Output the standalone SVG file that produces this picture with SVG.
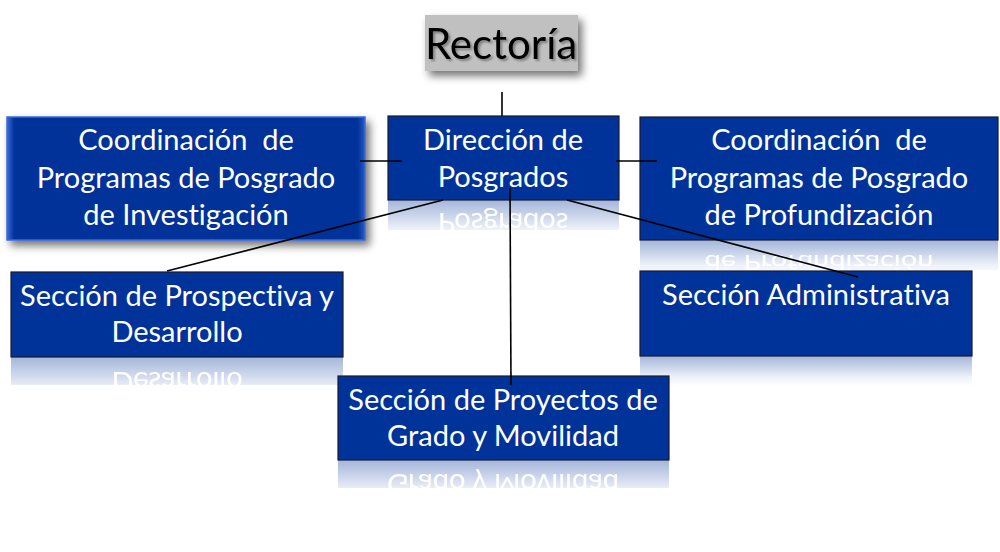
<svg xmlns="http://www.w3.org/2000/svg" width="1000" height="552" viewBox="0 0 1000 552">
<style>
.box{fill:#003399;stroke:#1a1a2e;stroke-width:1.2}
.t{font-family:Lato,"Open Sans","Liberation Sans",sans-serif;font-size:29px;fill:#ffffff;text-anchor:middle;white-space:pre;font-variant-ligatures:none}
.rt{font-family:Lato,"Open Sans","Liberation Sans",sans-serif;font-size:29px;fill:#ffffff;text-anchor:middle;white-space:pre;font-variant-ligatures:none}
.conn{stroke:#000000;stroke-width:1.6;fill:none}
.refl{fill:#003399;opacity:0.45}
</style>
<defs>
<linearGradient id="fade" x1="0" y1="0" x2="0" y2="1">
<stop offset="0" stop-color="#ffffff" stop-opacity="0.8"/>
<stop offset="0.7" stop-color="#ffffff" stop-opacity="0.15"/>
<stop offset="1" stop-color="#ffffff" stop-opacity="0"/>
</linearGradient>
<mask id="rmask" maskContentUnits="objectBoundingBox">
<rect x="0" y="0" width="1" height="1" fill="url(#fade)"/>
</mask>
<clipPath id="c-dir"><rect x="388" y="200" width="231" height="30"/></clipPath>
<clipPath id="c-prof"><rect x="640" y="240" width="358" height="30"/></clipPath>
<clipPath id="c-pros"><rect x="11" y="357" width="332" height="28"/></clipPath>
<clipPath id="c-adm"><rect x="640" y="356" width="332" height="30"/></clipPath>
<clipPath id="c-proy"><rect x="338" y="460" width="331" height="28"/></clipPath>
<filter id="shadow" x="-10%" y="-20%" width="130%" height="150%">
<feGaussianBlur in="SourceAlpha" stdDeviation="4"/>
<feOffset dx="4" dy="5" result="b"/>
<feComponentTransfer><feFuncA type="linear" slope="0.55"/></feComponentTransfer>
<feMerge><feMergeNode/><feMergeNode in="SourceGraphic"/></feMerge>
</filter>
<filter id="tshadow" x="-5%" y="-10%" width="115%" height="130%">
<feGaussianBlur in="SourceAlpha" stdDeviation="1"/>
<feOffset dx="1.5" dy="1.5"/>
<feComponentTransfer><feFuncA type="linear" slope="0.35"/></feComponentTransfer>
<feMerge><feMergeNode/><feMergeNode in="SourceGraphic"/></feMerge>
</filter>
<linearGradient id="bevelL" x1="0" y1="0" x2="1" y2="0">
<stop offset="0" stop-color="#3a6ad8"/>
<stop offset="0.02" stop-color="#003399"/>
<stop offset="0.98" stop-color="#003399"/>
<stop offset="1" stop-color="#2a5ac8"/>
</linearGradient>
</defs>

<g id="rectoria">
<rect x="425" y="15" width="153" height="56" fill="#c0c0c0" filter="url(#shadow)"/>
<text x="501" y="59" filter="url(#tshadow)" style="font-family:Lato,'Open Sans','Liberation Sans',sans-serif;font-size:42px;fill:#000000;text-anchor:middle">Rectoría</text>
</g>

<g id="coord-investigacion">
<rect x="7" y="117" width="358" height="123" fill="url(#bevelL)" stroke="#3a6ad8" stroke-width="1.5" filter="url(#shadow)"/>
<text class="t" x="186" y="150">Coordinación  de</text>
<text class="t" x="186" y="188">Programas de Posgrado</text>
<text class="t" x="186" y="225">de Investigación</text>
</g>

<g id="direccion">
<g clip-path="url(#c-dir)"><g mask="url(#rmask)">
<rect class="refl" x="388" y="200" width="231" height="30"/>
<text class="rt" transform="translate(0,400) scale(1,-1)" x="503" y="187">Posgrados</text>
</g></g>
<rect class="box" x="388" y="116" width="231" height="84"/>
<text class="t" x="503" y="150">Dirección de</text>
<text class="t" x="503" y="187">Posgrados</text>
</g>

<g id="coord-profundizacion">
<g clip-path="url(#c-prof)"><g mask="url(#rmask)">
<rect class="refl" x="640" y="240" width="358" height="30"/>
<text class="rt" transform="translate(0,255) scale(1,-0.75)" x="819" y="0">de Profundización</text>
</g></g>
<rect class="box" x="640" y="117" width="358" height="123"/>
<text class="t" x="819" y="150">Coordinación  de</text>
<text class="t" x="819" y="188">Programas de Posgrado</text>
<text class="t" x="819" y="225">de Profundización</text>
</g>

<g id="prospectiva">
<g clip-path="url(#c-pros)"><g mask="url(#rmask)">
<rect class="refl" x="11" y="357" width="332" height="28"/>
<text class="rt" transform="translate(0,714) scale(1,-1)" x="177" y="342">Desarrollo</text>
</g></g>
<rect class="box" x="11" y="272" width="332" height="85"/>
<text class="t" x="177" y="306">Sección de Prospectiva y</text>
<text class="t" x="177" y="342">Desarrollo</text>
</g>

<g id="administrativa">
<g clip-path="url(#c-adm)"><g mask="url(#rmask)">
<rect class="refl" x="640" y="356" width="332" height="30"/>
</g></g>
<rect class="box" x="640" y="271" width="332" height="85"/>
<text class="t" x="806" y="305">Sección Administrativa</text>
</g>

<g id="proyectos">
<g clip-path="url(#c-proy)"><g mask="url(#rmask)">
<rect class="refl" x="338" y="460" width="331" height="28"/>
<text class="rt" transform="translate(0,920) scale(1,-1)" x="503" y="446">Grado y Movilidad</text>
</g></g>
<rect class="box" x="338" y="376" width="331" height="84"/>
<text class="t" x="503" y="410">Sección de Proyectos de</text>
<text class="t" x="503" y="446">Grado y Movilidad</text>
</g>

<g id="connectors">
<line class="conn" x1="502" y1="92" x2="502" y2="116"/>
<line class="conn" x1="360" y1="161" x2="402" y2="161"/>
<line class="conn" x1="616" y1="161" x2="657" y2="161"/>
<line class="conn" x1="443" y1="200" x2="167" y2="271"/>
<line class="conn" x1="567" y1="200" x2="858" y2="277"/>
<line class="conn" x1="510" y1="188" x2="511" y2="385"/>
</g>
</svg>
